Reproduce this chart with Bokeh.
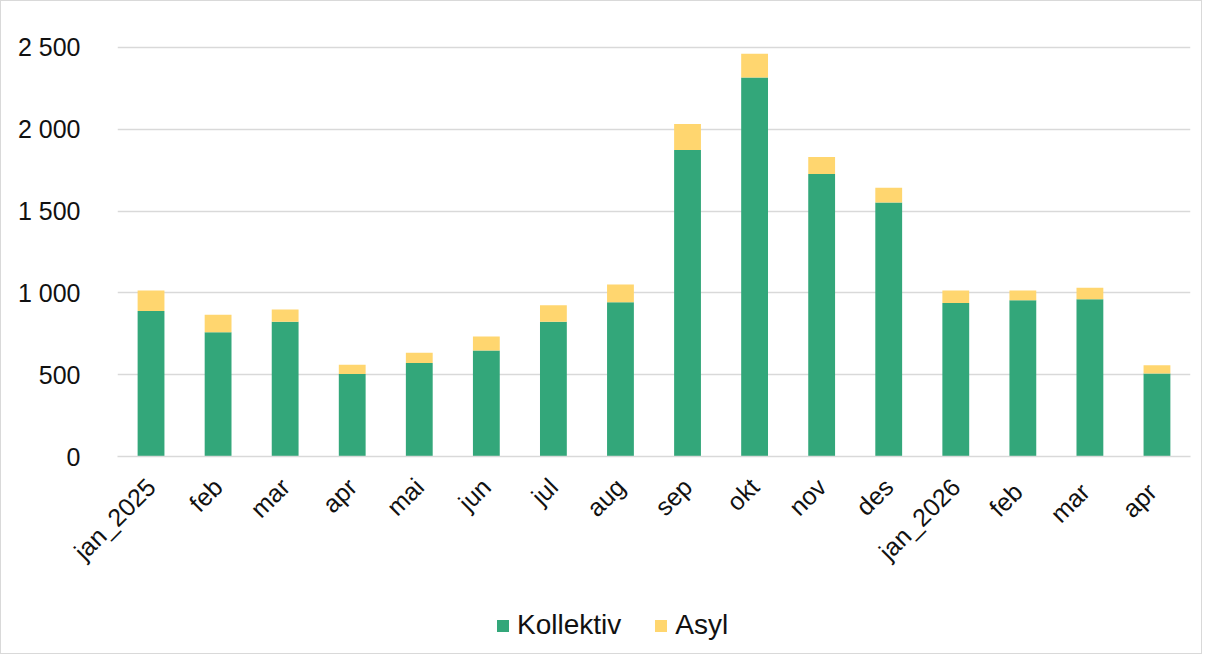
from bokeh.plotting import figure
from bokeh.layouts import column
from bokeh.models import ColumnDataSource, FactorRange, Range1d, Legend, LegendItem, CustomJSTickFormatter, FixedTicker
from bokeh.embed import file_html
from bokeh.resources import INLINE
import math

months = ["jan_2025", "feb", "mar", "apr", "mai", "jun", "jul", "aug", "sep", "okt",
          "nov", "des", "jan_2026", "feb ", "mar ", "apr "]
kollektiv = [890, 760, 823, 504, 571, 648, 823, 943, 1874, 2317, 1727, 1553, 939, 955, 961, 508]
asyl = [124, 106, 75, 57, 63, 86, 101, 108, 158, 144, 104, 89, 75, 59, 71, 49]
series = ["Kollektiv", "Asyl"]
colors = ["#33A77A", "#FFD66F"]
y_ticks = [0, 500, 1000, 1500, 2000, 2500]

source = ColumnDataSource(data=dict(month=months, Kollektiv=kollektiv, Asyl=asyl))

p = figure(x_range=FactorRange(*months, range_padding=0), y_range=Range1d(0, 2665),
           width=1200, height=600, output_backend="svg", toolbar_location=None,
           min_border_left=116, min_border_right=11, min_border_top=19, min_border_bottom=145)

p.vbar_stack(series, x="month", width=0.4, color=colors, source=source, line_color=None)

p.outline_line_color = None
p.xgrid.grid_line_color = None
p.ygrid.grid_line_color = "#d9d9d9"
p.ygrid.grid_line_width = 1.5
p.yaxis.ticker = FixedTicker(ticks=y_ticks)
p.yaxis.formatter = CustomJSTickFormatter(code="return tick.toString().replace(/\\B(?=(\\d{3})+(?!\\d))/g, ' ');")
p.yaxis.axis_line_color = None
p.yaxis.major_tick_line_color = None
p.yaxis.minor_tick_line_color = None
p.yaxis.major_label_text_font = "Liberation Sans"
p.yaxis.major_label_text_font_size = "25px"
p.yaxis.major_label_text_color = "#111111"
p.yaxis.major_label_standoff = 31

p.xaxis.axis_line_color = "#d9d9d9"
p.xaxis.axis_line_width = 1.5
p.xaxis.major_tick_line_color = None
p.xaxis.minor_tick_line_color = None
p.xaxis.major_label_orientation = math.pi / 4
p.xaxis.major_label_text_font = "Liberation Sans"
p.xaxis.major_label_text_font_size = "25px"
p.xaxis.major_label_text_color = "#111111"
p.xaxis.major_label_standoff = 20

# legend strip below the chart
lg = figure(width=1200, height=52, x_range=Range1d(0, 1), y_range=Range1d(0, 1),
            output_backend="svg", toolbar_location=None, min_border=0)
lg.axis.visible = False
lg.grid.grid_line_color = None
lg.outline_line_color = None
items = []
for s, c in zip(series, colors):
    r = lg.vbar(x=[-5], top=[-5], width=0.1, color=c, line_color=None)
    items.append(LegendItem(label=s, renderers=[r]))
legend = Legend(items=items, orientation="horizontal", location=(378, 12),
                label_text_font="Liberation Sans", label_text_font_size="28px",
                label_text_color="#111111", glyph_width=15, glyph_height=15,
                spacing=32, label_standoff=7, border_line_color=None,
                background_fill_alpha=0, padding=4, margin=0)
lg.add_layout(legend, "center")

layout = column(p, lg, spacing=0, styles={"border": "1px solid #d9d9d9"})

open("out.html", "w").write(file_html(layout, INLINE))
